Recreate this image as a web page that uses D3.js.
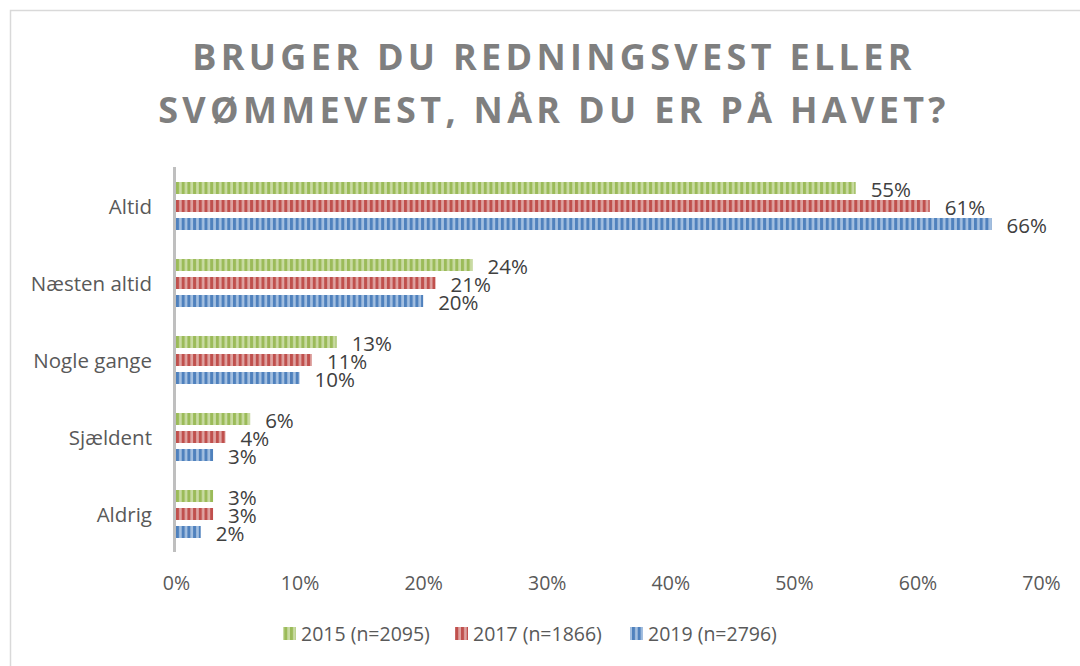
<!DOCTYPE html>
<html><head><meta charset="utf-8">
<script src="https://cdn.jsdelivr.net/npm/d3@7"></script>
<style>body{margin:0;background:#fff}svg{display:block}</style>
</head><body>
<script>
const categories = ["Altid","Næsten altid","Nogle gange","Sjældent","Aldrig"];
const seriesNames = ["2015 (n=2095)","2017 (n=1866)","2019 (n=2796)"];
const v2015 = [55,24,13,6,3];
const v2017 = [61,21,11,4,3];
const v2019 = [66,20,10,3,2];
const xTicks = [0,10,20,30,40,50,60,70];
const titleLines = ["BRUGER DU REDNINGSVEST ELLER","SVØMMEVEST, NÅR DU ER PÅ HAVET?"];

const series = [v2015,v2017,v2019];
const dark = ["#9bbb59","#c0504d","#4f81bd"];
const light = ["#c9dba3","#dea3a1","#a3bfe0"];
const W=1080,H=666;
const svg=d3.select("body").append("svg").attr("width",W).attr("height",H);
const defs=svg.append("defs");
dark.forEach((c,i)=>{
  const p=defs.append("pattern").attr("id","pat"+i).attr("patternUnits","userSpaceOnUse")
    .attr("width",5.7).attr("height",20).attr("x",176);
  p.append("rect").attr("width",5.7).attr("height",20).attr("fill",light[i]);
  p.append("rect").attr("width",3).attr("height",20).attr("fill",c);
});
// frame
svg.append("path").attr("d","M10.5,"+(H+5)+"V10.5H"+(W+5)).attr("fill","none").attr("stroke","#d9d9d9").attr("stroke-width",1.5);

const font="'Open Sans', 'Liberation Sans', sans-serif";
// title
const t=svg.append("text").attr("text-anchor","middle").attr("font-family",font).attr("font-weight","bold")
  .attr("font-size",36).attr("fill","#7f7f7f").attr("letter-spacing",4.3);
titleLines.forEach((l,i)=>t.append("tspan").attr("x",554).attr("y",70+i*53).text(l));

const x=d3.scaleLinear().domain([0,70]).range([176,1041]);
const y0=d3.scaleBand().domain(categories).range([167,552]);
const y1=d3.scaleBand().domain([0,1,2]).range([15,63]).paddingInner(1/3);

const g=svg.append("g");
categories.forEach((c,ci)=>{
  const gg=g.append("g").attr("transform","translate(0,"+y0(c)+")");
  series.forEach((s,si)=>{
    const yy=y1(si), h=y1.bandwidth();
    gg.append("rect").attr("x",x(0)).attr("y",yy).attr("width",x(s[ci])-x(0)).attr("height",h)
      .attr("fill","url(#pat"+si+")");
    gg.append("text").attr("x",x(s[ci])+15).attr("y",yy+h/2+2).attr("dy","0.35em")
      .attr("font-family",font).attr("font-size",20.5).attr("fill","#404040").text(s[ci]+"%");
  });
});

// category labels
svg.append("g").selectAll("text").data(categories).join("text")
  .attr("x",152).attr("y",d=>y0(d)+y0.bandwidth()/2+1).attr("dy","0.35em").attr("text-anchor","end")
  .attr("font-family",font).attr("font-size",20.5).attr("fill","#595959").text(d=>d);

// axis
const ax=svg.append("g").attr("transform","translate(0,583)")
  .call(d3.axisBottom(x).tickValues(xTicks).tickFormat(d=>d+"%").tickSize(0));
ax.select(".domain").remove();
ax.selectAll("text").attr("font-family",font).attr("font-size",19.5).attr("fill","#595959").attr("y",0).attr("dy","0.35em");
svg.append("line").attr("x1",x(0)-1.5).attr("x2",x(0)-1.5).attr("y1",167).attr("y2",552)
  .attr("stroke","#bfbfbf").attr("stroke-width",3);

// legend
const lx=[283,455,630];
seriesNames.forEach((n,i)=>{
  svg.append("rect").attr("x",lx[i]).attr("y",627).attr("width",13).attr("height",13).attr("fill","url(#pat"+i+")");
  svg.append("text").attr("x",lx[i]+18).attr("y",634).attr("dy","0.35em").attr("font-family",font)
    .attr("font-size",19.5).attr("fill","#595959").text(n);
});
</script>
</body></html>
